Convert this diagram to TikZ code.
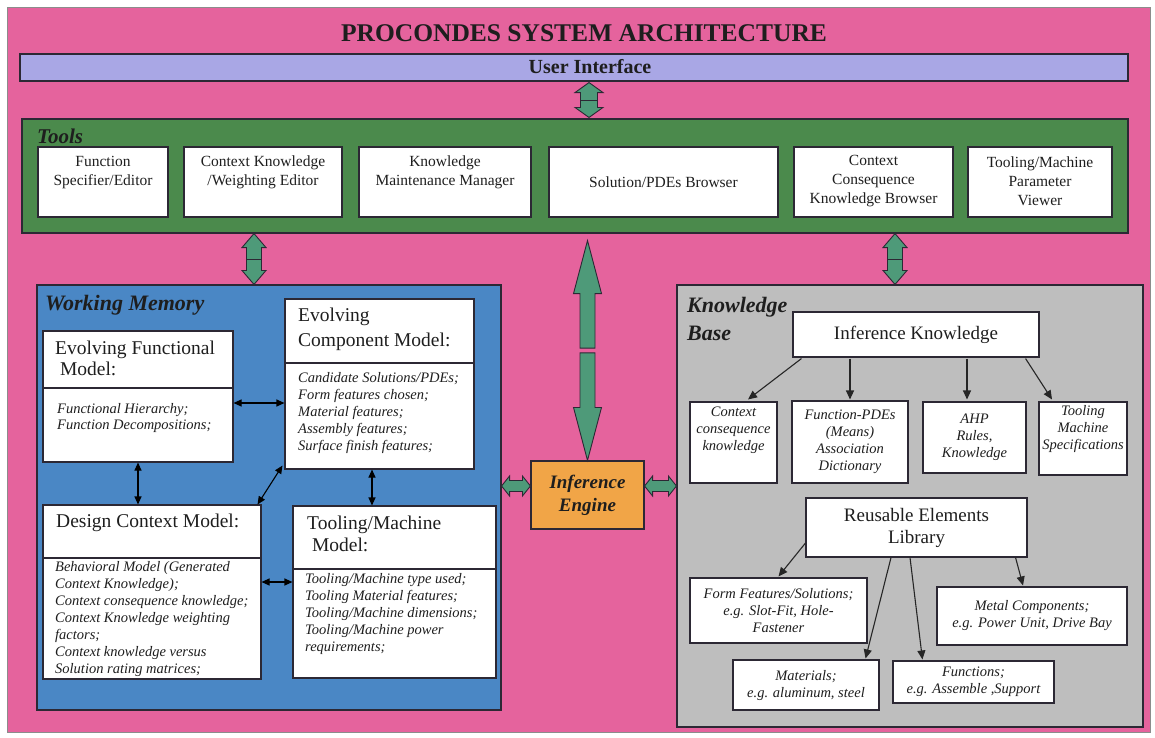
\documentclass[tikz,border=0pt]{standalone}
\usepackage{fontspec}
\setmainfont{Liberation Serif}
\usetikzlibrary{calc,arrows.meta}

\definecolor{pinkbg}{HTML}{E5639D}
\definecolor{uiblue}{HTML}{A9A7E5}
\definecolor{toolgreen}{HTML}{4B8A4C}
\definecolor{wmblue}{HTML}{4A87C5}
\definecolor{kbgrey}{HTML}{BEBEBE}
\definecolor{ieorange}{HTML}{F1A547}
\definecolor{arrowg}{HTML}{4E9A79}
\definecolor{edgec}{HTML}{2C2834}
\definecolor{txt}{HTML}{1E1E1E}

\newcommand\fs[2]{\fontsize{#1}{#2}\selectfont}
% box node from its corner coordinates: [style]{name}{x1}{y1}{x2}{y2}{text}
\newcommand\mkbox[7][]{\node[#1, minimum width={(#5-#3)*1pt}, minimum height={(#6-#4)*1pt}] (#2) at ({(#3+#5)/2},{(#4+#6)/2}) {#7};}
% vertical block arrow with a head at both ends: {top}{bottom}{half shaft}{half head}{head length}
\newcommand\vdbl[5]{%
  \filldraw[fatarrow] let \p1=(#1), \p2=(#2) in
    (\p1) -- (\x1+#4pt,\y1-#5pt) -- (\x1+#3pt,\y1-#5pt) -- (\x1+#3pt,\y2+#5pt) -- (\x1+#4pt,\y2+#5pt)
    -- (\x1,\y2) -- (\x1-#4pt,\y2+#5pt) -- (\x1-#3pt,\y2+#5pt) -- (\x1-#3pt,\y1-#5pt) -- (\x1-#4pt,\y1-#5pt) -- cycle;
  \draw[fatarrow,fill=none] let \p1=(#1), \p2=(#2) in
    (\x1-#3pt,{(\y1+\y2)/2}) -- (\x1+#3pt,{(\y1+\y2)/2});}
% horizontal block arrow with a head at both ends: {left}{right}{half shaft}{half head}{head length}
\newcommand\hdbl[5]{%
  \filldraw[fatarrow] let \p1=(#1), \p2=(#2) in
    (\p1) -- (\x1+#5pt,\y1+#4pt) -- (\x1+#5pt,\y1+#3pt) -- (\x2-#5pt,\y1+#3pt) -- (\x2-#5pt,\y1+#4pt)
    -- (\x2,\y1) -- (\x2-#5pt,\y1-#4pt) -- (\x2-#5pt,\y1-#3pt) -- (\x1+#5pt,\y1-#3pt) -- (\x1+#5pt,\y1-#4pt) -- cycle;}
% upward block arrow: {tip}{tail}{half shaft}{half head}{head length}
\newcommand\vup[5]{%
  \filldraw[fatarrow] let \p1=(#1), \p2=(#2) in
    (\p1) -- (\x1+#4pt,\y1-#5pt) -- (\x1+#3pt,\y1-#5pt) -- (\x1+#3pt,\y2) -- (\x1-#3pt,\y2)
    -- (\x1-#3pt,\y1-#5pt) -- (\x1-#4pt,\y1-#5pt) -- cycle;}
% downward block arrow: {tail}{tip}{half shaft}{half head}{head length}
\newcommand\vdown[5]{%
  \filldraw[fatarrow] let \p1=(#1), \p2=(#2) in
    (\x2-#3pt,\y1) -- (\x2+#3pt,\y1) -- (\x2+#3pt,\y2+#5pt) -- (\x2+#4pt,\y2+#5pt) -- (\p2)
    -- (\x2-#4pt,\y2+#5pt) -- (\x2-#3pt,\y2+#5pt) -- cycle;}

\tikzset{
  panel/.style={draw=edgec, line width=1.1pt, inner sep=0pt},
  wbox/.style={draw=edgec, fill=white, line width=1.1pt, inner sep=0pt, text=txt},
  fatarrow/.style={fill=arrowg, draw=edgec, line width=0.9pt, line join=miter},
  link/.style={draw=black, line width=1.1pt, {Triangle[length=8pt,width=7pt]}-{Triangle[length=8pt,width=7pt]}},
  feed/.style={draw=black!85, line width=1.1pt, -{Triangle[length=9pt,width=8pt]}},
  tooltxt/.style={font=\fs{15.5}{19}, align=center, inner sep=0pt, text=txt},
  mtitle/.style={font=\fs{19.5}{22}, align=left, inner sep=0pt, anchor=west, text=txt},
  mbody/.style={font=\fs{14.5}{17}\itshape, align=left, inner sep=0pt, anchor=west, text=txt},
  kbtxt/.style={font=\fs{14.5}{17}\itshape, align=center},
  hdr/.style={font=\fs{21}{28}\bfseries\itshape, align=left, inner sep=0pt, anchor=west, text=txt},
}

\begin{document}
\begin{tikzpicture}[x=1pt,y=-1pt]
\useasboundingbox (0,0) rectangle (1155,737);
\fill[white] (0,0) rectangle (1155,737);

% background and title
\mkbox[draw=black!45, fill=pinkbg, line width=0.8pt]{bg}{7}{7}{1150}{732}{}
\node[font=\fs{25.5}{28}\bfseries, text=txt, inner sep=0pt] (title) at (584,33) {PROCONDES SYSTEM ARCHITECTURE};

% user interface
\mkbox[panel, fill=uiblue]{ui}{20}{54}{1128}{81}{}
\node[font=\fs{20}{24}\bfseries, text=txt, inner sep=0pt] (uitext) at (590,67) {User Interface};

% tools
\mkbox[panel, fill=toolgreen]{tools}{22}{119}{1128}{233}{}
\mkbox[wbox]{tb1}{38}{147}{168}{217}{}
\mkbox[wbox]{tb2}{184}{147}{342}{217}{}
\mkbox[wbox]{tb3}{359}{147}{531}{217}{}
\mkbox[wbox]{tb4}{549}{147}{778}{217}{}
\mkbox[wbox]{tb5}{794}{147}{953}{217}{}
\mkbox[wbox]{tb6}{968}{147}{1112}{217}{}
\node[hdr] (toolshdr) at (37,136) {Tools};
\node[tooltxt] (t1) at (103,172.5) {Function\\Specifier/Editor};
\node[tooltxt] (t2) at (263,172.5) {Context Knowledge\\/Weighting Editor};
\node[tooltxt] (t3) at (445,172.5) {Knowledge\\Maintenance Manager};
\node[tooltxt] (t4) at (663.5,182) {Solution/PDEs Browser};
\node[tooltxt] (t5) at (873.5,181.5) {Context\\Consequence\\Knowledge Browser};
\node[tooltxt] (t6) at (1040,181.5) {Tooling/Machine\\Parameter\\Viewer};

% working memory
\mkbox[panel, fill=wmblue]{wm}{37}{285}{501}{710}{}
\node[hdr, font=\fs{22}{28}\bfseries\itshape] (wmhdr) at (45,305) {Working Memory};
\mkbox[wbox]{ef}{43}{331}{233}{462}{}
\draw[draw=edgec, line width=1.1pt] (ef.west |- 0,388) -- (ef.east |- 0,388);
\mkbox[wbox]{ec}{285}{299}{474}{469}{}
\draw[draw=edgec, line width=1.1pt] (ec.west |- 0,363) -- (ec.east |- 0,363);
\mkbox[wbox]{dc}{43}{505}{261}{679}{}
\draw[draw=edgec, line width=1.1pt] (dc.west |- 0,558) -- (dc.east |- 0,558);
\mkbox[wbox]{tm}{293}{506}{496}{678}{}
\draw[draw=edgec, line width=1.1pt] (tm.west |- 0,569) -- (tm.east |- 0,569);

\node[mtitle, font=\fs{19.5}{21}] (eft) at (55,358.5) {Evolving Functional\\\ Model:};
\node[mbody, font=\fs{14.5}{16}\itshape] (efb) at (57,418) {Functional Hierarchy;\\Function Decompositions;};
\node[mtitle, font=\fs{19.5}{25}] (ect) at (298,329.5) {Evolving\\Component Model:};
\node[mbody] (ecb) at (298,413) {Candidate Solutions/PDEs;\\Form features chosen;\\Material features;\\Assembly features;\\Surface finish features;};
\node[mtitle] (dct) at (56,523) {Design Context Model:};
\node[mbody] (dcb) at (55,619) {Behavioral Model (Generated\\Context Knowledge);\\Context consequence knowledge;\\Context Knowledge weighting\\factors;\\Context knowledge versus\\Solution rating matrices;};
\node[mtitle] (tmt) at (307,534) {Tooling/Machine\\\ Model:};
\node[mbody] (tmb) at (305,614) {Tooling/Machine type used;\\Tooling Material features;\\Tooling/Machine dimensions;\\Tooling/Machine power\\requirements;};

\draw[link] ($(ef.east)+(0,6.5)$) -- ($(ec.west)+(0,19)$);
\draw[link] (ef.south) -- ($(dc.north)+(-14,0)$);
\draw[link] ($(ec.south west)+(-2,-4)$) -- ($(dc.north east)+(-4,0)$);
\draw[link] ($(ec.south)+(-7.5,0)$) -- ($(tm.north)+(-22.5,0)$);
\draw[link] ($(dc.east)+(0,-10)$) -- ($(tm.west)+(0,-10)$);

% inference engine
\mkbox[panel, fill=ieorange, font=\fs{19}{23}\bfseries\itshape, text=txt, align=center]{ie}{531}{461}{644}{529}{Inference\\Engine}

% knowledge base
\mkbox[panel, fill=kbgrey]{kb}{677}{285}{1143}{727}{}
\node[hdr, font=\fs{22}{28}\bfseries\itshape] (kbhdr) at (687,319) {Knowledge\\Base};
\mkbox[wbox, font=\fs{19}{22}]{ik}{793}{312}{1039}{357}{Inference Knowledge}
\mkbox[wbox]{ka}{690}{402}{777}{483}{}
\node[kbtxt, text=txt, inner sep=0pt] (kat) at (733.5,430) {Context\\consequence\\knowledge};
\mkbox[wbox, kbtxt]{kbx}{792}{401}{908}{483}{Function-PDEs\\(Means)\\Association\\Dictionary}
\mkbox[wbox, kbtxt]{kc}{923}{402}{1026}{473}{AHP\\Rules,\\Knowledge}
\mkbox[wbox]{kd}{1039}{402}{1127}{475}{}
\node[kbtxt, text=txt, inner sep=0pt] (kdt) at (1083,429) {Tooling\\Machine\\Specifications};

\mkbox[wbox, font=\fs{19}{22}, align=center]{rel}{806}{498}{1027}{557}{Reusable Elements\\Library}
\mkbox[wbox, kbtxt]{form}{690}{578}{867}{643}{Form Features/Solutions;\\e.g. Slot-Fit, Hole-\\Fastener}
\mkbox[wbox, kbtxt]{metal}{937}{587}{1127}{645}{Metal Components;\\e.g. Power Unit, Drive Bay}
\mkbox[wbox, kbtxt]{mat}{733}{660}{879}{710}{Materials;\\e.g. aluminum, steel}
\mkbox[wbox, kbtxt]{fn}{893}{661}{1054}{703}{Functions;\\e.g. Assemble ,Support}

\draw[feed] ($(ik.south west)+(9,1)$) -- ($(ka.north)+(14.5,-2)$);
\draw[feed] ($(ik.south)+(-66,1)$) -- ($(kbx.north)+(0,-1)$);
\draw[feed] ($(ik.south)+(51,1)$) -- ($(kc.north)+(-7.5,-2)$);
\draw[feed] ($(ik.south east)+(-14,1)$) -- ($(kd.north)+(-31,-2)$);
\draw[feed] ($(rel.west)+(0,15.5)$) -- ($(form.north)+(0,-1)$);
\draw[feed] ($(rel.south)+(-25.5,0)$) -- ($(mat.north east)+(-14,-1)$);
\draw[feed] ($(rel.south)+(-6.5,0)$) -- ($(fn.north west)+(30,-1)$);
\draw[feed] ($(rel.south east)+(-12,0)$) -- ($(metal.north)+(-9,-1)$);

% block arrows between the main parts
\coordinate (uiA) at ($(ui.south)+(15,1)$);
\coordinate (toolsA) at ($(tools.north)+(14,-1)$);
\vdbl{uiA}{toolsA}{8.5}{14}{10}
\coordinate (toolsL) at ($(tools.south)+(-321,0)$);
\coordinate (wmA) at ($(wm.north)+(-15,0)$);
\vdbl{toolsL}{wmA}{7.5}{12}{14}
\coordinate (toolsR) at ($(tools.south)+(320,0)$);
\coordinate (kbA) at ($(kb.north)+(-15,0)$);
\vdbl{toolsR}{kbA}{7.5}{12}{14}
\coordinate (bigtop) at ($(tools.south)+(12.5,7)$);
\coordinate (splitA) at ($(bigtop)!0.489!(ie.north)$);
\coordinate (splitB) at ($(bigtop)!0.511!(ie.north)$);
\vup{bigtop}{splitA}{7.5}{14}{53}
\vdown{splitB}{ie.north}{7.5}{14}{53}
\coordinate (wmE) at ($(wm.east)+(0,-11.5)$);
\coordinate (ieW) at ($(ie.west)+(0,-9)$);
\hdbl{wmE}{ieW}{5.5}{10}{8}
\coordinate (ieE) at ($(ie.east)+(0,-9)$);
\coordinate (kbW) at ($(kb.west)+(0,-20)$);
\hdbl{ieE}{kbW}{5.5}{10}{8}
\end{tikzpicture}
\end{document}
